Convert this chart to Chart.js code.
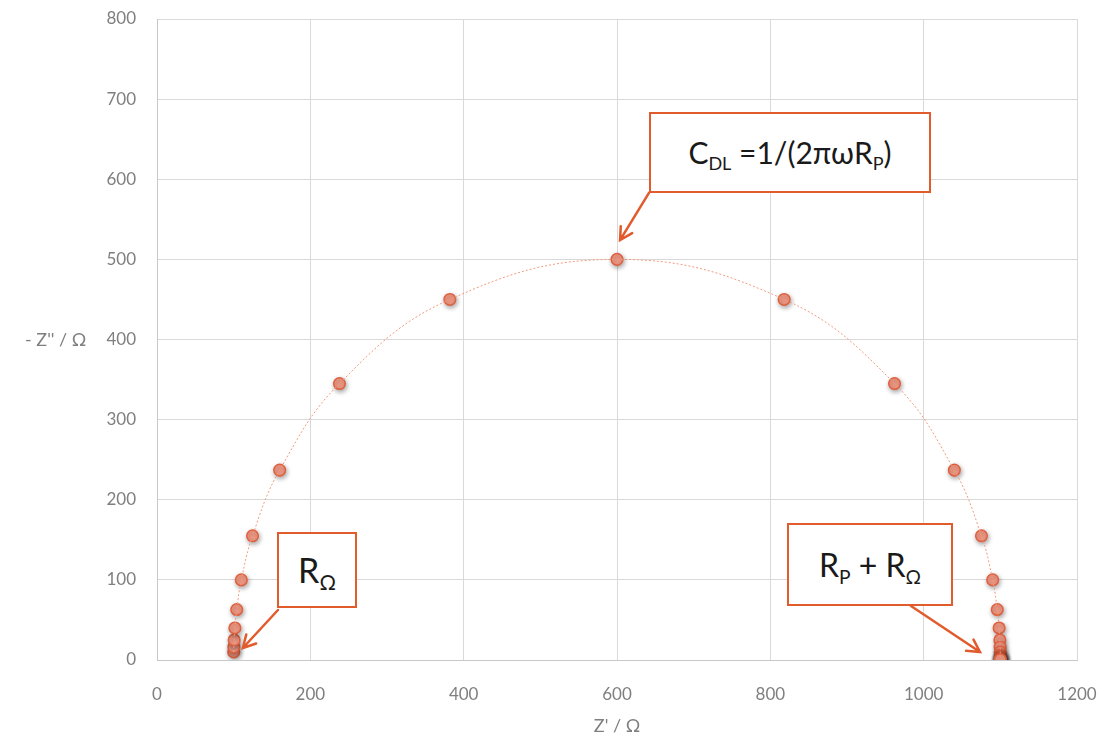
<!DOCTYPE html>
<html>
<head>
<meta charset="utf-8">
<script src="https://cdn.jsdelivr.net/npm/chart.js@4.4.1/dist/chart.umd.min.js"></script>
<style>
  html, body { margin:0; padding:0; background:#fff; }
  #wrap { position:relative; width:1107px; height:741px; font-family:Lato, "Open Sans", sans-serif; }
  #ytitle { position:absolute; left:25px; top:328px; font-size:18px; color:#7f7f7f; white-space:nowrap; }
  .note { position:absolute; box-sizing:border-box; border:2px solid #e15b2c; background:#fff;
          display:flex; align-items:center; justify-content:center; color:#1a1a1a; white-space:nowrap; }
  .note sub { font-size:0.6em; vertical-align:-0.35em; line-height:0; }
</style>
</head>
<body>
<div id="wrap">
  <canvas id="c" width="1107" height="741"></canvas>
  <div id="ytitle">- Z'' / Ω</div>
</div>
<script>
// Nyquist plot: Z' (real) vs -Z'' (imag), Ohm
const zReal = [100.1, 100.25, 100.6, 101.6, 104, 110, 124.6, 160, 238, 382, 600,
               818, 962, 1040, 1075.4, 1090, 1096, 1098.4, 1099.4, 1099.75, 1099.9,
               1099.96, 1099.98, 1100, 1100, 1100, 1100, 1100, 1100];
const zImag = [10, 16, 25, 40, 63, 100, 155, 237, 345, 450, 500,
               450, 345, 237, 155, 100, 63, 40, 25, 16, 10,
               6.3, 4, 2.5, 1.6, 1, 0.6, 0.4, 0.25];
const xTicks = [0, 200, 400, 600, 800, 1000, 1200];
const yTicks = [0, 100, 200, 300, 400, 500, 600, 700, 800];

const pts = zReal.map((x, i) => ({ x, y: zImag[i] }));

// callouts, placed in data units
const notes = [
  { html:'C<sub>DL</sub> =1/(2πωR<sub>P</sub>)', box:[641.7, 684, 1009.6, 583], from:[641.7, 583], to:[604, 524], size:30 },
  { html:'R<sub>Ω</sub>', box:[156.5, 159.8, 260.9, 64.9], from:[157.8, 62.4], to:[112, 15], size:34 },
  { html:'R<sub>P</sub> + R<sub>Ω</sub>', box:[821.7, 171, 1038.3, 67.4], from:[983.5, 67.4], to:[1073.5, 10], size:32 },
];

const shadow = {
  id:'shadow',
  beforeDatasetDraw(chart, args) {
    if (args.index !== 1) return;
    const c = chart.ctx;
    c.save();
    c.shadowColor = 'rgba(0,0,0,0.35)';
    c.shadowBlur = 5;
    c.shadowOffsetX = 1;
    c.shadowOffsetY = 2;
  },
  afterDatasetDraw(chart, args) {
    if (args.index === 1) chart.ctx.restore();
  }
};

const callouts = {
  id:'callouts',
  afterDraw(chart) {
    const c = chart.ctx, xs = chart.scales.x, ys = chart.scales.y;
    const wrap = document.getElementById('wrap');
    c.save();
    c.strokeStyle = '#e15b2c';
    c.lineWidth = 2.5;
    c.lineCap = 'round';
    notes.forEach((n, i) => {
      const x0 = xs.getPixelForValue(n.from[0]), y0 = ys.getPixelForValue(n.from[1]);
      const x1 = xs.getPixelForValue(n.to[0]), y1 = ys.getPixelForValue(n.to[1]);
      const a = Math.atan2(y1 - y0, x1 - x0), L = 14, w = 0.5;
      c.beginPath();
      c.moveTo(x0, y0); c.lineTo(x1, y1);
      c.moveTo(x1 - L * Math.cos(a - w), y1 - L * Math.sin(a - w));
      c.lineTo(x1, y1);
      c.lineTo(x1 - L * Math.cos(a + w), y1 - L * Math.sin(a + w));
      c.stroke();

      let el = document.getElementById('note' + i);
      if (!el) {
        el = document.createElement('div');
        el.id = 'note' + i;
        el.className = 'note';
        el.innerHTML = '<span>' + n.html + '</span>';
        wrap.appendChild(el);
      }
      const l = xs.getPixelForValue(n.box[0]), t = ys.getPixelForValue(n.box[1]);
      const r = xs.getPixelForValue(n.box[2]), b = ys.getPixelForValue(n.box[3]);
      el.style.left = l + 'px'; el.style.top = t + 'px';
      el.style.width = (r - l) + 'px'; el.style.height = (b - t) + 'px';
      el.style.fontSize = n.size + 'px';
    });
    c.restore();
  }
};

const tickFont = { family:'Lato, "Open Sans", sans-serif', size:17 };

new Chart(document.getElementById('c'), {
  type:'scatter',
  data:{
    datasets:[
      { data:pts, showLine:true, tension:0.4, borderColor:'#f29a7c', borderWidth:1,
        borderDash:[2,2], pointRadius:0, fill:false },
      { data:pts, showLine:false, pointRadius:5.8, pointBorderWidth:1.5,
        pointBackgroundColor:'#f19a85', pointBorderColor:'#e0603e' }
    ]
  },
  options:{
    responsive:false,
    animation:false,
    devicePixelRatio:1,
    layout:{ padding:{ top:19, right:30, left:0, bottom:0 } },
    plugins:{ legend:{ display:false }, tooltip:{ enabled:false } },
    scales:{
      x:{
        type:'linear', min:0, max:1200,
        afterBuildTicks: s => { s.ticks = xTicks.map(v => ({ value:v })); },
        afterFit: s => { s.height = 81; },
        grid:{ color:'#d9d9d9', drawTicks:true, tickLength:22, tickColor:'rgba(0,0,0,0)' },
        border:{ color:'#c8c8c8' },
        ticks:{ color:'#7f7f7f', font:tickFont, padding:2, maxRotation:0, callback: v => String(v) },
        title:{ display:true, text:"Z' / Ω", color:'#7f7f7f',
                font:{ family:'Lato, "Open Sans", sans-serif', size:18 }, padding:{ top:4, bottom:4 } }
      },
      y:{
        type:'linear', min:0, max:800,
        afterBuildTicks: s => { s.ticks = yTicks.map(v => ({ value:v })); },
        afterFit: s => { s.width = 157; },
        grid:{ color:'#d9d9d9', drawTicks:true, tickLength:21, tickColor:'rgba(0,0,0,0)' },
        border:{ color:'#c8c8c8' },
        ticks:{ color:'#7f7f7f', font:tickFont, padding:0, callback: v => String(v) }
      }
    }
  },
  plugins:[shadow, callouts]
});
</script>
</body>
</html>
